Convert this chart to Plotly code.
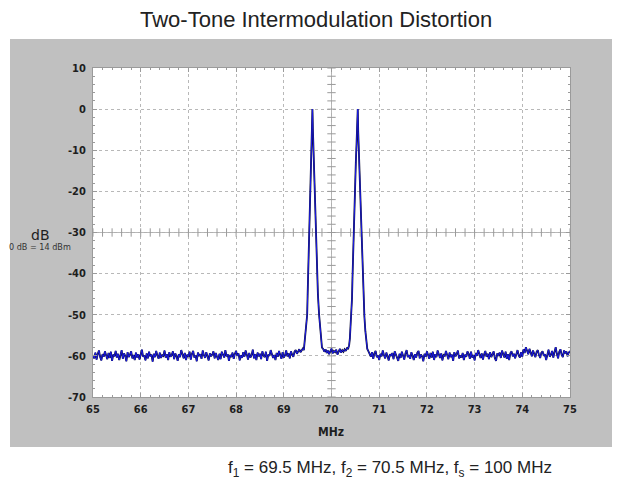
import numpy as np
import plotly.graph_objects as go

# ---------------- data ----------------
STEP = 0.025
segA_start = 65.0
segA_y = [
    -59.8,-60.6,-59.2,-60.9,-59.5,-58.7,-60.3,-61.1,-59.6,-60.2,-58.9,-59.9,-60.8,-59.3,-60.5,-59.0,-61.2,-59.7,-60.1,-58.8,
    -60.4,-59.5,-61.0,-59.9,-58.6,-60.7,-59.4,-60.0,-61.3,-59.1,-60.3,-59.7,-58.9,-60.6,-59.8,-61.0,-59.2,-60.4,-59.6,-60.9,
    -59.3,-58.5,-60.2,-59.9,-61.1,-59.4,-60.6,-59.0,-60.1,-59.7,-61.4,-59.5,-60.3,-58.8,-59.9,-60.7,-59.2,-60.5,-59.8,-60.0,
    -58.7,-60.4,-59.6,-61.0,-59.1,-60.2,-59.8,-58.9,-60.8,-59.4,-60.1,-61.2,-59.6,-60.3,-58.6,-59.9,-60.6,-59.3,-61.0,-59.7,
    -60.2,-59.0,-60.9,-59.5,-58.8,-60.4,-59.9,-61.3,-59.2,-60.0,-59.6,-60.7,-58.7,-59.8,-60.5,-59.1,-60.3,-61.1,-59.4,-60.1,
    -59.7,-58.9,-60.6,-59.3,-60.2,-61.0,-59.5,-60.8,-59.0,-59.9,-60.4,-58.6,-60.1,-59.6,-61.2,-59.8,-60.3,-59.2,-60.7,-59.5,
    -58.8,-60.0,-59.4,-61.1,-59.9,-60.5,-59.1,-60.2,-58.7,-59.7,-60.9,-59.3,-60.4,-59.8,-58.5,-60.6,-59.6,-61.0,-59.2,-60.1,
    -59.5,-60.8,-58.9,-59.9,-60.3,-59.0,-61.2,-59.7,-60.0,-58.6,-59.4,-60.5,-59.8,-61.0,-59.3,-60.2,-58.8,-59.6,-60.7,-59.1,
    -60.4,-59.9,-58.7,-60.1,-59.4,-60.6,-58.9,-59.7,-60.2,-59.0,-58.6,-59.5,-58.9,-58.4,-59.1,-58.6,-58.2,
]
peak1_x = [69.42,69.43,69.445,69.46,69.475,69.49,69.50,69.51,69.52,69.53,69.545,69.56,69.575,69.59,69.597,69.60,
           69.603,69.61,69.62,69.63,69.645,69.66,69.67,69.69,69.715,69.74,69.76,69.78,69.80]
peak1_y = [-58.6,-57.5,-55.5,-53.5,-51.8,-50.0,-45.0,-40.0,-35.0,-30.0,-24.0,-18.0,-13.0,-8.0,-3.0,0.0,
           -1.0,-5.0,-8.5,-12.0,-20.0,-26.0,-30.0,-38.0,-45.0,-50.0,-53.5,-56.5,-58.0]
segB_start = 69.825
segB_y = [-58.3,-59.0,-58.4,-59.3,-58.7,-59.6,-58.9,-58.2,-59.4,-58.8,-59.1,-58.5,-59.7,-58.9,-58.3,-59.2,-58.6,-59.0,-58.4,-58.8,-58.1]
peak2_x = [70.35,70.37,70.385,70.40,70.42,70.43,70.44,70.45,70.465,70.48,70.495,70.51,70.525,70.54,70.55,
           70.553,70.56,70.57,70.58,70.595,70.61,70.62,70.64,70.665,70.69,70.71,70.73,70.75]
peak2_y = [-58.2,-57.4,-55.8,-53.0,-50.5,-46.0,-41.0,-36.0,-30.5,-24.0,-18.5,-13.0,-8.5,-3.5,0.0,
           -1.2,-5.5,-9.0,-12.5,-20.0,-26.5,-30.0,-38.5,-45.5,-50.5,-54.0,-56.8,-58.3]
segC_start = 70.775
segC_y = [
    -58.9,-59.6,-60.2,-59.1,-60.7,-59.4,-58.8,-60.3,-59.9,-61.0,-59.5,-60.1,-58.7,-59.8,-60.6,-59.2,-60.4,-61.1,-59.6,-60.0,
    -59.3,-60.8,-58.9,-59.7,-60.2,-61.2,-59.5,-60.5,-59.0,-59.9,-60.9,-59.4,-58.6,-60.3,-59.8,-60.7,-59.1,-60.0,-61.0,-59.6,
    -60.4,-59.2,-58.8,-60.6,-59.7,-60.1,-61.3,-59.5,-60.2,-58.9,-59.8,-60.7,-59.3,-60.4,-59.0,-61.0,-59.6,-60.3,-58.7,-59.9,
    -60.5,-59.4,-61.1,-59.8,-60.0,-58.8,-59.6,-60.8,-59.2,-60.3,-59.7,-61.2,-59.1,-60.1,-59.5,-58.7,-60.6,-59.9,-60.4,-59.3,
    -61.0,-59.7,-60.2,-58.9,-59.5,-60.7,-59.0,-60.4,-59.8,-61.1,-59.3,-60.0,-58.6,-59.9,-60.5,-59.4,-60.9,-59.6,-58.8,-60.2,
    -59.5,-60.8,-59.1,-60.3,-59.7,-58.9,-60.6,-61.2,-59.4,-60.0,-59.2,-60.5,-58.7,-59.8,-60.4,-59.0,-60.7,-59.6,-61.0,-59.3,
    -58.9,-60.1,-59.5,-60.6,-59.8,-58.6,-59.9,-60.4,-59.1,-60.2,-58.4,-59.3,-57.9,-58.8,-59.6,-58.3,-59.4,-60.1,-58.7,-59.5,
    -60.3,-59.0,-58.6,-59.8,-60.5,-59.2,-58.9,-60.0,-59.6,-61.0,-59.3,-58.5,-60.2,-59.7,-58.8,-60.4,-59.1,-57.9,-59.5,-60.6,
    -59.0,-58.4,-59.8,-60.3,-58.7,-59.4,-58.9,-60.1,-59.2,-58.8,
]

x_ticks = [65, 66, 67, 68, 69, 70, 71, 72, 73, 74, 75]
y_ticks = [-70, -60, -50, -40, -30, -20, -10, 0, 10]

title_text = "Two-Tone Intermodulation Distortion"
caption = "f<sub>1</sub> = 69.5 MHz, f<sub>2</sub> = 70.5 MHz, f<sub>s</sub> = 100 MHz"

# ---------------- build series ----------------
def grid(start, n):
    return list(np.round(start + STEP * np.arange(n), 4))

x_all = grid(segA_start, len(segA_y)) + peak1_x + grid(segB_start, len(segB_y)) + peak2_x + grid(segC_start, len(segC_y))
y_all = segA_y + peak1_y + segB_y + peak2_y + segC_y

fig = go.Figure()
fig.add_trace(go.Scatter(x=x_all, y=y_all, mode="lines",
                         line=dict(color="#0a0a30", width=1.8), hoverinfo="skip"))
fig.add_trace(go.Scatter(x=x_all, y=y_all, mode="lines",
                         line=dict(color="#1c1ce6", width=1.0), hoverinfo="skip"))

# centre cross-hair tick marks
cx = list(np.round(np.arange(65, 75.001, 0.2), 2))
fig.add_trace(go.Scatter(x=cx, y=[-30] * len(cx), mode="markers",
                         marker=dict(symbol="line-ns", size=6, line=dict(color="#9a9a9a", width=1)),
                         hoverinfo="skip"))
cy = list(np.arange(-70, 10.001, 2))
fig.add_trace(go.Scatter(x=[70] * len(cy), y=cy, mode="markers",
                         marker=dict(symbol="line-ew", size=6, line=dict(color="#9a9a9a", width=1)),
                         hoverinfo="skip"))

L, R, T, B = 93, 53, 68, 95
W, H = 623, 492
pw, ph = W - L - R, H - T - B

def px_to_paper_x(px):
    return (px - L) / pw

def px_to_paper_y(py):
    return (H - B - py) / ph

shapes = [
    dict(type="rect", xref="paper", yref="paper", layer="below",
         x0=px_to_paper_x(10), x1=px_to_paper_x(612), y0=px_to_paper_y(447), y1=px_to_paper_y(39),
         fillcolor="#c0c0c0", line=dict(width=0)),
    dict(type="rect", xref="x", yref="y", layer="below",
         x0=65, x1=75, y0=-70, y1=10, fillcolor="white", line=dict(width=0)),
    dict(type="line", xref="x", yref="y", layer="below", x0=70, x1=70, y0=-70, y1=10,
         line=dict(color="#b0b0b0", width=1)),
    dict(type="line", xref="x", yref="y", layer="below", x0=65, x1=75, y0=-30, y1=-30,
         line=dict(color="#b0b0b0", width=1)),
]

tickfont = dict(family="DejaVu Sans Condensed, DejaVu Sans", size=11, color="#1e1e1e", weight="bold")
axis_common = dict(showline=True, linecolor="#9a9a9a", linewidth=1, mirror="ticks",
                   ticks="inside", ticklen=4, tickcolor="#9a9a9a",
                   showgrid=True, gridcolor="#b8b8b8", griddash="dot", gridwidth=1,
                   zeroline=False, tickfont=tickfont)

fig.update_layout(
    width=W, height=H,
    margin=dict(l=L, r=R, t=T, b=B, pad=0),
    paper_bgcolor="white", plot_bgcolor="white",
    showlegend=False,
    shapes=shapes,
    xaxis=dict(range=[65, 75], tickvals=x_ticks, ticktext=[str(v) for v in x_ticks],
               minor=dict(dtick=0.2, ticks="inside", ticklen=2, tickcolor="#9a9a9a", showgrid=False),
               ticklabelstandoff=2, **axis_common),
    yaxis=dict(range=[-70, 10], tickvals=y_ticks, ticktext=[str(v) for v in y_ticks],
               minor=dict(dtick=2, ticks="inside", ticklen=2, tickcolor="#9a9a9a", showgrid=False),
               ticklabelstandoff=4, **axis_common),
    annotations=[
        dict(text=title_text, xref="paper", yref="paper", x=px_to_paper_x(316), y=px_to_paper_y(20),
             showarrow=False, xanchor="center", yanchor="middle",
             font=dict(family="Liberation Sans, Arial", size=22, color="#222222")),
        dict(text="MHz", xref="paper", yref="paper", x=px_to_paper_x(331), y=px_to_paper_y(432),
             showarrow=False, xanchor="center", yanchor="middle",
             font=dict(family="DejaVu Sans Condensed, DejaVu Sans", size=12, color="#1e1e1e", weight="bold")),
        dict(text="dB", xref="paper", yref="paper", x=px_to_paper_x(40), y=px_to_paper_y(235),
             showarrow=False, xanchor="center", yanchor="middle",
             font=dict(family="DejaVu Sans", size=14, color="#1e1e1e")),
        dict(text="0 dB = 14 dBm", xref="paper", yref="paper", x=px_to_paper_x(40), y=px_to_paper_y(247),
             showarrow=False, xanchor="center", yanchor="middle",
             font=dict(family="DejaVu Sans Condensed, DejaVu Sans", size=9, color="#333333")),
        dict(text=caption, xref="paper", yref="paper", x=px_to_paper_x(390), y=px_to_paper_y(469),
             showarrow=False, xanchor="center", yanchor="middle",
             font=dict(family="Liberation Sans, Arial", size=17, color="#222222")),
    ],
)

fig.write_html("out.html")
